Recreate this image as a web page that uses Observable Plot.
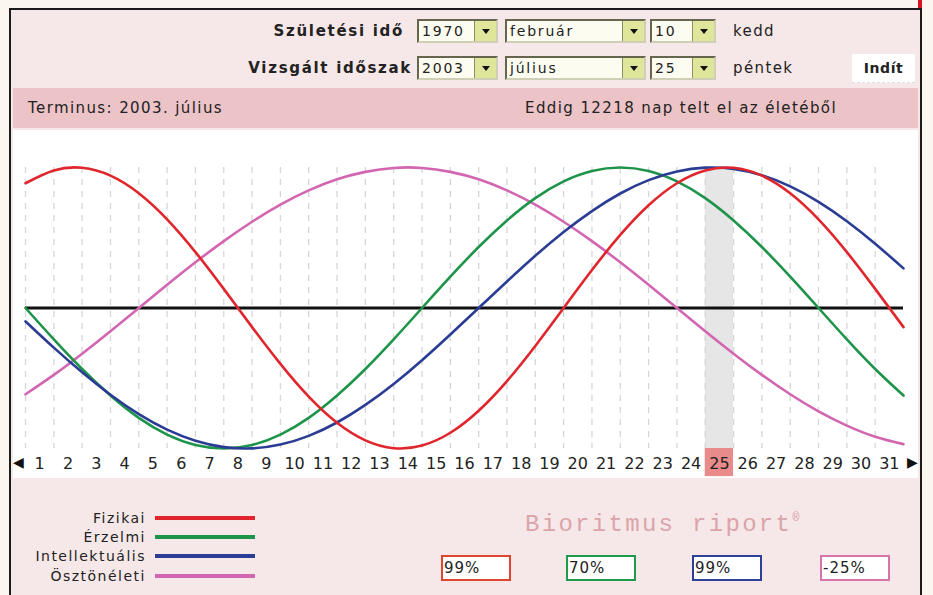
<!DOCTYPE html>
<html>
<head>
<meta charset="utf-8">
<script src="https://cdn.jsdelivr.net/npm/d3@7"></script>
<script src="https://cdn.jsdelivr.net/npm/@observablehq/plot@0.6"></script>
<style>
html, body { margin: 0; padding: 0; background: #fbf6ef; }
#root { position: relative; width: 933px; height: 595px; overflow: hidden; font-family: "DejaVu Sans", Verdana, sans-serif; color: #222; }
.abs { position: absolute; }
#box { left: 9px; top: 8px; width: 913px; height: 600px; box-sizing: border-box; border: 2px solid #1c1c1c; border-bottom: none; background: #f6e7e8; }
#redmark { left: 918px; top: 0; width: 4px; height: 20px; background: #d8141e; }
#bar { left: 13px; top: 88px; width: 905px; height: 40px; background: #ecc3c6; }
#white { left: 13px; top: 130px; width: 905px; height: 348px; background: #ffffff; }
.lbl { font-weight: bold; font-size: 15px; letter-spacing: 1.7px; line-height: 20px; white-space: nowrap; }
.txt { font-size: 15px; letter-spacing: 1.4px; line-height: 20px; white-space: nowrap; }
.sel { height: 24px; box-sizing: border-box; border: 2px solid; border-color: #66664e #cfcfb6 #cfcfb6 #66664e; background: #fcfcf1; font-size: 14px; letter-spacing: 1.8px; line-height: 20px; padding-left: 3px; white-space: nowrap; }
.sel .b { position: absolute; right: 0; top: 0; width: 22px; height: 20px; background: #dfe59b; border-left: 1px solid #8f8f66; box-sizing: border-box; }
.sel .b::after { content: ""; position: absolute; left: 7px; top: 8px; width: 0; height: 0; border-left: 4px solid transparent; border-right: 4px solid transparent; border-top: 5px solid #111; }
#indit { left: 852px; top: 54px; width: 63px; height: 28px; background: #fff; font-weight: bold; font-size: 14px; letter-spacing: 0.6px; line-height: 28px; text-align: center; border-bottom: 1px dashed #ddd; }
#plot { left: 0; top: 130px; }
.arrow { font-size: 14px; line-height: 20px; color: #111; }
.leg { font-size: 14px; letter-spacing: 1.5px; line-height: 18px; text-align: right; width: 140px; white-space: nowrap; color: #222; }
.legline { width: 100px; height: 4px; }
.pct { width: 70px; height: 26px; box-sizing: border-box; border: 2px solid; background: #fff; font-size: 15px; letter-spacing: 1px; line-height: 22px; padding-left: 1px; }
#brand { left: 525px; top: 503px; font-family: "Liberation Mono", "Courier New", monospace; font-size: 24px; letter-spacing: 2.3px; color: #dba4ab; line-height: 30px; white-space: nowrap; }
#brand sup { font-size: 12px; letter-spacing: 0; vertical-align: 10px; }
</style>
</head>
<body>
<div id="root">
  <div id="redmark" class="abs"></div>
  <div id="box" class="abs"></div>
  <div id="bar" class="abs"></div>
  <div id="white" class="abs"></div>

  <div class="abs lbl" style="right:529px; top:21px;">Születési idő</div>
  <div class="abs lbl" style="right:521px; top:58px;">Vizsgált időszak</div>

  <div class="abs sel" style="left:417px; top:19px; width:81px;">1970<div class="b"></div></div>
  <div class="abs sel" style="left:505px; top:19px; width:141px;">február<div class="b"></div></div>
  <div class="abs sel" style="left:650px; top:19px; width:66px;">10<div class="b"></div></div>
  <div class="abs txt" style="left:733px; top:21px;">kedd</div>

  <div class="abs sel" style="left:417px; top:56px; width:81px;">2003<div class="b"></div></div>
  <div class="abs sel" style="left:505px; top:56px; width:141px;">július<div class="b"></div></div>
  <div class="abs sel" style="left:650px; top:56px; width:66px;">25<div class="b"></div></div>
  <div class="abs txt" style="left:733px; top:58px;">péntek</div>
  <div id="indit" class="abs">Indít</div>

  <div class="abs txt" style="left:28px; top:98px;">Terminus: 2003. július</div>
  <div class="abs txt" style="left:525px; top:98px;">Eddig 12218 nap telt el az életéből</div>

  <div id="plot" class="abs"></div>
  <div class="abs arrow" style="left:13px; top:452px;">◀</div>
  <div class="abs arrow" style="left:907px; top:452px;">▶</div>

  <div id="legend"></div>
  <div id="brand" class="abs">Bioritmus riport<sup>®</sup></div>
  <div id="pcts"></div>
</div>
<script>
// Day tick labels and the examined day
const days = [1,2,3,4,5,6,7,8,9,10,11,12,13,14,15,16,17,18,19,20,21,22,23,24,25,26,27,28,29,30,31];
const highlightDay = 25;

// Curve sample positions (day boundaries) and values (-1 … 1)
const samplePos = [0.5,1.5,2.5,3.5,4.5,5.5,6.5,7.5,8.5,9.5,10.5,11.5,12.5,13.5,14.5,15.5,16.5,17.5,18.5,19.5,20.5,21.5,22.5,23.5,24.5,25.5,26.5,27.5,28.5,29.5,30.5,31.5];
const fizikai = [0.888,0.979,0.998,0.942,0.817,0.631,0.398,0.136,-0.136,-0.398,-0.631,-0.817,-0.942,-0.998,-0.979,-0.888,-0.731,-0.520,-0.270,0,0.270,0.520,0.731,0.888,0.979,0.998,0.942,0.817,0.631,0.398,0.136,-0.136];
const erzelmi = [0,-0.223,-0.434,-0.623,-0.782,-0.901,-0.975,-1,-0.975,-0.901,-0.782,-0.623,-0.434,-0.223,0,0.223,0.434,0.623,0.782,0.901,0.975,1,0.975,0.901,0.782,0.623,0.434,0.223,0,-0.223,-0.434,-0.623];
const intellektualis = [-0.095,-0.282,-0.458,-0.618,-0.756,-0.866,-0.945,-0.990,-0.999,-0.972,-0.910,-0.815,-0.690,-0.541,-0.372,-0.189,0,0.189,0.372,0.541,0.690,0.815,0.910,0.972,0.999,0.990,0.945,0.866,0.756,0.618,0.458,0.282];
const osztoneleti = [-0.614,-0.476,-0.325,-0.165,0,0.165,0.325,0.476,0.614,0.736,0.837,0.916,0.969,0.997,0.997,0.969,0.916,0.837,0.736,0.614,0.476,0.325,0.165,0,-0.165,-0.325,-0.476,-0.614,-0.736,-0.837,-0.916,-0.969];

const seriesNames = ["Fizikai", "Érzelmi", "Intellektuális", "Ösztönéleti"];
const seriesColors = ["#e0262c", "#1d944a", "#2b3c94", "#d266b0"];
const boxColors = ["#e0452f", "#1f9a4a", "#2e3f96", "#d673a8"];
const percents = ["99%", "70%", "99%", "-25%"];

const seriesValues = [fizikai, erzelmi, intellektualis, osztoneleti];
const drawOrder = [3, 1, 2, 0];
const table = drawOrder.flatMap(si => samplePos.map((x, i) => ({x, v: seriesValues[si][i], name: seriesNames[si]})));

const chart = Plot.plot({
  width: 933,
  height: 348,
  marginLeft: 25,
  marginRight: 30,
  marginTop: 37,
  marginBottom: 30,
  x: {domain: [0.5, 31.5]},
  y: {domain: [-1, 1], axis: null},
  color: {domain: seriesNames, range: seriesColors},
  style: {background: "transparent", fontFamily: "DejaVu Sans", overflow: "visible"},
  marks: [
    Plot.rect([highlightDay], {x1: d => d - 0.5, x2: d => d + 0.5, fill: "#e6e6e6"}),
    Plot.ruleX(days, {x: d => d - 0.5, stroke: "#d6d6d6", strokeWidth: 1.3, strokeDasharray: "6,6"}),
    Plot.ruleY([0], {stroke: "#111", strokeWidth: 3}),
    Plot.line(table, {x: "x", y: "v", z: "name", stroke: "name", strokeWidth: 2.6, curve: "natural"}),
    Plot.rect([highlightDay], {x1: d => d - 0.5, x2: d => d + 0.5, y1: -1, y2: -1.2, fill: "#ea8b8b", clip: false}),
    Plot.axisX(days, {tickSize: 0, tickPadding: 9, fontSize: 16, fill: "#222", tickFormat: d => String(d), label: null})
  ]
});
document.getElementById("plot").appendChild(chart);

// Legend
const legend = document.getElementById("legend");
const legRows = [509, 528, 547, 567];
seriesNames.forEach((n, i) => {
  const t = document.createElement("div");
  t.className = "abs leg";
  t.style.left = "6px";
  t.style.top = legRows[i] + "px";
  t.textContent = n;
  legend.appendChild(t);
  const l = document.createElement("div");
  l.className = "abs legline";
  l.style.left = "155px";
  l.style.top = (legRows[i] + 7) + "px";
  l.style.background = seriesColors[i];
  legend.appendChild(l);
});

// Percentage boxes
const pcts = document.getElementById("pcts");
const pctLeft = [441, 566, 692, 820];
percents.forEach((p, i) => {
  const b = document.createElement("div");
  b.className = "abs pct";
  b.style.left = pctLeft[i] + "px";
  b.style.top = "555px";
  b.style.borderColor = boxColors[i];
  b.textContent = p;
  pcts.appendChild(b);
});
</script>
</body>
</html>
